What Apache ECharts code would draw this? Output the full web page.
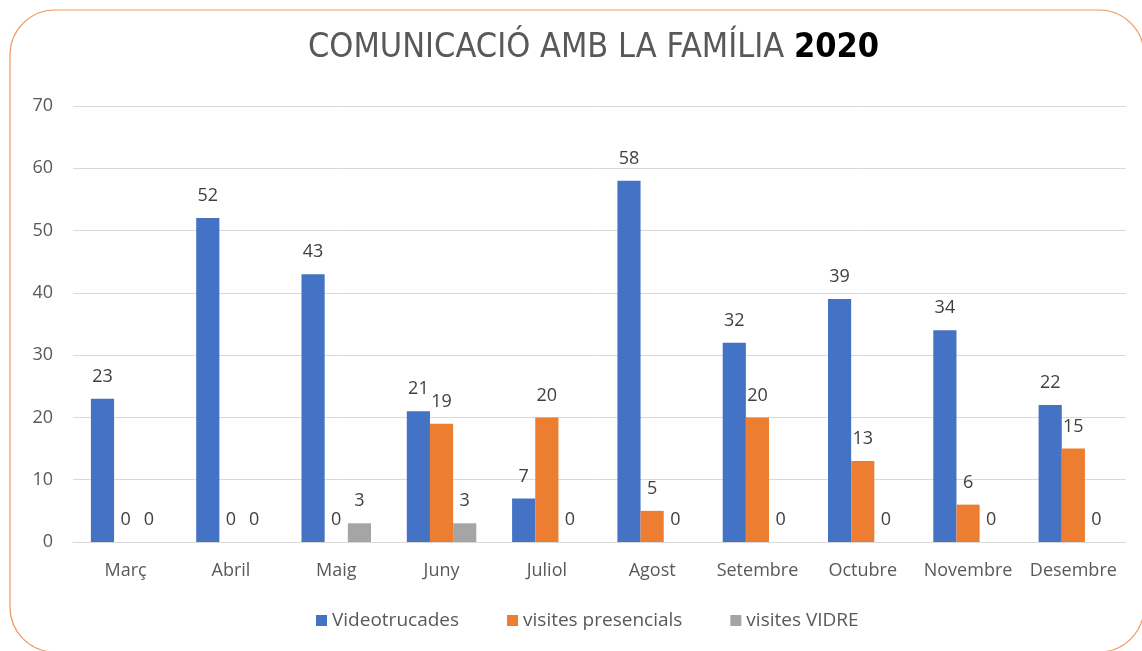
<!DOCTYPE html>
<html>
<head>
<meta charset="utf-8">
<title>Comunicació amb la família 2020</title>
<script src="https://cdn.jsdelivr.net/npm/echarts@6/dist/echarts.min.js"></script>
<style>
    html, body { margin: 0; padding: 0; background: #fff; }
    #chart_id { width: 1142px; height: 651px; }
</style>
</head>
<body>
<div id="chart_id"></div>
<script>
// dades del gràfic
var mesos = ['Març', 'Abril', 'Maig', 'Juny', 'Juliol', 'Agost', 'Setembre', 'Octubre', 'Novembre', 'Desembre'];
var videotrucades = [23, 52, 43, 21, 7, 58, 32, 39, 34, 22];
var presencials = [0, 0, 0, 19, 20, 5, 20, 13, 6, 15];
var vidre = [0, 0, 3, 3, 0, 0, 0, 0, 0, 0];
var nomsSeries = ['Videotrucades', 'visites presencials', 'visites VIDRE'];
var colors = ['#4472C4', '#ED7D31', '#A5A5A5'];

var fontFamily = "'Open Sans', 'Noto Sans', sans-serif";
var titleFont = "'DejaVu Sans Condensed', 'Open Sans', sans-serif";

function serie(name, data, color) {
    return {
        name: name,
        type: 'bar',
        data: data,
        barGap: '0%',
        barCategoryGap: '34%',
        itemStyle: { color: color },
        label: {
            show: true,
            position: 'top',
            distance: 13,
            color: '#404040',
            fontSize: 18,
            fontFamily: fontFamily
        }
    };
}

var myChart = echarts.init(document.getElementById('chart_id'));
var option = {
    animation: false,
    color: colors,
    title: {
        text: '{a|COMUNICACIÓ AMB LA FAMÍLIA }{b|2020}',
        left: 303,
        top: 26,
        textStyle: {
            rich: {
                a: { fontSize: 34, color: '#595959', fontWeight: 'normal', fontFamily: titleFont },
                b: { fontSize: 34, color: '#000', fontWeight: 'bold', fontFamily: titleFont }
            }
        }
    },
    graphic: [{
        type: 'rect',
        shape: { x: 10, y: 10, width: 1134, height: 642, r: 45 },
        style: { fill: 'none', stroke: '#F19A61', lineWidth: 1.2 },
        silent: true
    }],
    legend: {
        bottom: 16,
        left: 311,
        itemWidth: 11,
        itemHeight: 11,
        itemGap: 48,
        icon: 'rect',
        data: nomsSeries,
        textStyle: { color: '#595959', fontSize: 19, fontFamily: fontFamily }
    },
    grid: { left: 73, right: 16, top: 106, bottom: 109 },
    xAxis: {
        type: 'category',
        data: mesos,
        axisLine: { lineStyle: { color: '#D9D9D9' } },
        axisTick: { show: false },
        axisLabel: { color: '#595959', fontSize: 18, fontFamily: fontFamily, margin: 20, interval: 0 }
    },
    yAxis: {
        type: 'value',
        min: 0,
        max: 70,
        interval: 10,
        axisLine: { show: false },
        axisTick: { show: false },
        splitLine: { lineStyle: { color: '#D9D9D9' } },
        axisLabel: { color: '#595959', fontSize: 18, fontFamily: fontFamily, margin: 20 }
    },
    series: [
        serie(nomsSeries[0], videotrucades, colors[0]),
        serie(nomsSeries[1], presencials, colors[1]),
        serie(nomsSeries[2], vidre, colors[2])
    ]
};
myChart.setOption(option, true);
</script>
</body>
</html>
